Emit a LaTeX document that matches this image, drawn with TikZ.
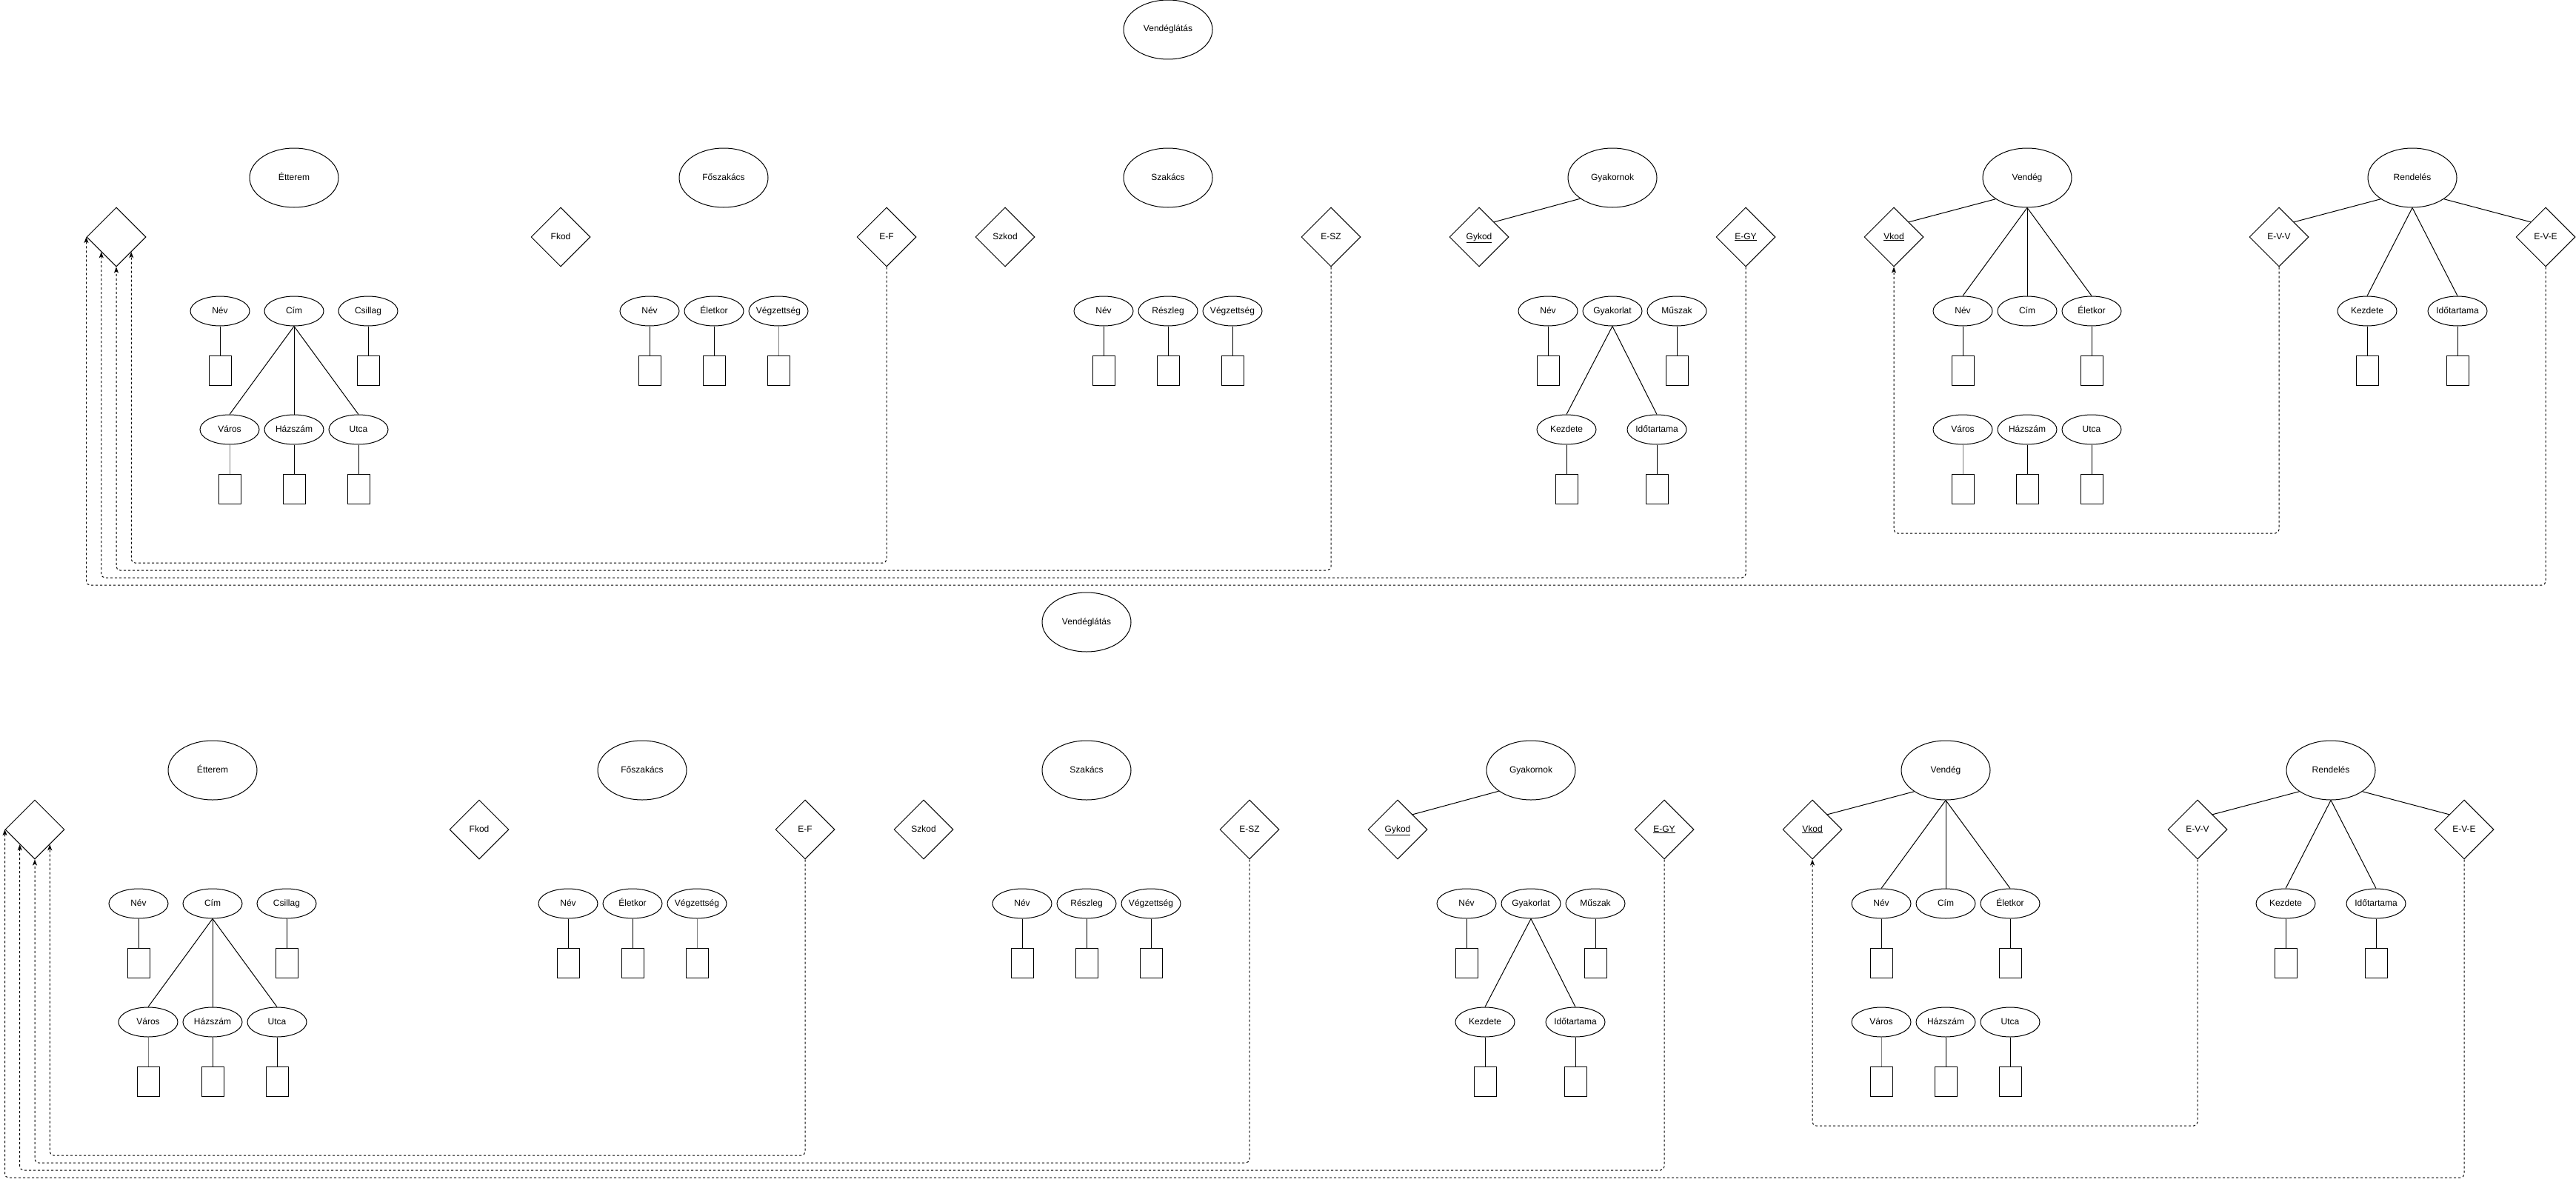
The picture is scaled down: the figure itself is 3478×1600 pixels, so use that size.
\documentclass[tikz,border=0pt]{standalone}
\usepackage{fontspec}
\setmainfont{Liberation Sans}
\usetikzlibrary{shapes.geometric,arrows.meta}
\newcommand\zlabel[1]{\makebox[0pt]{#1}}
\tikzset{
 every node/.style={text height=9pt,text depth=3pt},
 ent/.style={ellipse,draw,line width=1pt,inner sep=0pt,minimum width=120pt,minimum height=80pt},
 attr/.style={ellipse,draw,line width=1pt,inner sep=0pt,minimum width=80pt,minimum height=40pt},
 rel/.style={diamond,draw,line width=1pt,inner sep=0pt,minimum width=80pt,minimum height=80pt,aspect=1},
 valbox/.style={rectangle,draw,line width=1pt,inner sep=0pt,minimum width=30pt,minimum height=40pt},
 conn/.style={line width=1pt},
 grayconn/.style={line width=1pt,draw=black!50},
 dashconn/.style={line width=1pt,dash pattern=on 3pt off 3pt,rounded corners=5pt,-{Stealth[length=8pt,width=6pt,inset=2pt]}},
}
\newcommand\erdiagram[2]{%
\begin{scope}[shift={(#1)}]
% entities
\node[ent] (#2vg)  at (1577,40)  {\zlabel{Vendéglátás}};
\node[ent] (#2ett) at (397,240)  {\zlabel{Étterem}};
\node[ent] (#2fsz) at (977,240)  {\zlabel{Főszakács}};
\node[ent] (#2szk) at (1577,240) {\zlabel{Szakács}};
\node[ent] (#2gyk) at (2177,240) {\zlabel{Gyakornok}};
\node[ent] (#2vnd) at (2737,240) {\zlabel{Vendég}};
\node[ent] (#2ren) at (3257,240) {\zlabel{Rendelés}};
% diamonds
\node[rel] (#2d0)    at (157,320)  {};
\node[rel] (#2fkod)  at (757,320)  {\zlabel{Fkod}};
\node[rel] (#2ef)    at (1197,320) {\zlabel{E-F}};
\node[rel] (#2szkod) at (1357,320) {\zlabel{Szkod}};
\node[rel] (#2esz)   at (1797,320) {\zlabel{E-SZ}};
\node[rel] (#2gykod) at (1997,320) {\zlabel{\underline{Gykod}}};
\node[rel] (#2egy)   at (2357,320) {\zlabel{\underline{E-GY}}};
\node[rel] (#2vkod)  at (2557,320) {\zlabel{\underline{Vkod}}};
\node[rel] (#2evv)   at (3077,320) {\zlabel{E-V-V}};
\node[rel] (#2eve)   at (3437,320) {\zlabel{E-V-E}};
% Etterem attributes
\node[attr] (#2ettnev) at (297,420) {\zlabel{Név}};
\node[attr] (#2ettcim) at (397,420) {\zlabel{Cím}};
\node[attr] (#2ettcs)  at (497,420) {\zlabel{Csillag}};
\node[attr] (#2ettvar) at (310,580) {\zlabel{Város}};
\node[attr] (#2etthaz) at (397,580) {\zlabel{Házszám}};
\node[attr] (#2ettut)  at (484,580) {\zlabel{Utca}};
\node[valbox] (#2ettnevb) at (297,500) {};
\node[valbox] (#2ettcsb)  at (497,500) {};
\node[valbox] (#2ettvarb) at (310,660) {};
\node[valbox] (#2etthazb) at (397,660) {};
\node[valbox] (#2ettutb)  at (484,660) {};
% Foszakacs attributes
\node[attr] (#2fsznev)  at (877,420)  {\zlabel{Név}};
\node[attr] (#2fszelet) at (964,420)  {\zlabel{Életkor}};
\node[attr] (#2fszveg)  at (1051,420) {\zlabel{Végzettség}};
\node[valbox] (#2fsznevb)  at (877,500)  {};
\node[valbox] (#2fszeletb) at (964,500)  {};
\node[valbox] (#2fszvegb)  at (1051,500) {};
% Szakacs attributes
\node[attr] (#2szknev) at (1490,420) {\zlabel{Név}};
\node[attr] (#2szkres) at (1577,420) {\zlabel{Részleg}};
\node[attr] (#2szkveg) at (1664,420) {\zlabel{Végzettség}};
\node[valbox] (#2szknevb) at (1490,500) {};
\node[valbox] (#2szkresb) at (1577,500) {};
\node[valbox] (#2szkvegb) at (1664,500) {};
% Gyakornok attributes
\node[attr] (#2gyknev) at (2090,420) {\zlabel{Név}};
\node[attr] (#2gykgy)  at (2177,420) {\zlabel{Gyakorlat}};
\node[attr] (#2gykmu)  at (2264,420) {\zlabel{Műszak}};
\node[attr] (#2gykkez) at (2115,580) {\zlabel{Kezdete}};
\node[attr] (#2gykido) at (2237,580) {\zlabel{Időtartama}};
\node[valbox] (#2gyknevb) at (2090,500) {};
\node[valbox] (#2gykmub)  at (2264,500) {};
\node[valbox] (#2gykkezb) at (2115,660) {};
\node[valbox] (#2gykidob) at (2237,660) {};
% Vendeg attributes
\node[attr] (#2vndnev)  at (2650,420) {\zlabel{Név}};
\node[attr] (#2vndcim)  at (2737,420) {\zlabel{Cím}};
\node[attr] (#2vndelet) at (2824,420) {\zlabel{Életkor}};
\node[attr] (#2vndvar)  at (2650,580) {\zlabel{Város}};
\node[attr] (#2vndhaz)  at (2737,580) {\zlabel{Házszám}};
\node[attr] (#2vndut)   at (2824,580) {\zlabel{Utca}};
\node[valbox] (#2vndnevb)  at (2650,500) {};
\node[valbox] (#2vndeletb) at (2824,500) {};
\node[valbox] (#2vndvarb)  at (2650,660) {};
\node[valbox] (#2vndhazb)  at (2737,660) {};
\node[valbox] (#2vndutb)   at (2824,660) {};
% Rendeles attributes
\node[attr] (#2renkez) at (3196,420) {\zlabel{Kezdete}};
\node[attr] (#2renido) at (3318,420) {\zlabel{Időtartama}};
\node[valbox] (#2renkezb) at (3196,500) {};
\node[valbox] (#2renidob) at (3318,500) {};
% solid connectors
\draw[conn] (#2ettnev.south) -- (#2ettnevb.north);
\draw[conn] (#2ettcs.south) -- (#2ettcsb.north);
\draw[conn] (#2ettcim.south) -- (#2ettvar.north);
\draw[conn] (#2ettcim.south) -- (#2etthaz.north);
\draw[conn] (#2ettcim.south) -- (#2ettut.north);
\draw[grayconn] (#2ettvar.south) -- (#2ettvarb.north);
\draw[conn] (#2etthaz.south) -- (#2etthazb.north);
\draw[conn] (#2ettut.south) -- (#2ettutb.north);
\draw[conn] (#2fsznev.south) -- (#2fsznevb.north);
\draw[conn] (#2fszelet.south) -- (#2fszeletb.north);
\draw[grayconn] (#2fszveg.south) -- (#2fszvegb.north);
\draw[conn] (#2szknev.south) -- (#2szknevb.north);
\draw[conn] (#2szkres.south) -- (#2szkresb.north);
\draw[conn] (#2szkveg.south) -- (#2szkvegb.north);
\draw[conn] (#2gyk.213) -- (#2gykod.45);
\draw[conn] (#2gyknev.south) -- (#2gyknevb.north);
\draw[conn] (#2gykmu.south) -- (#2gykmub.north);
\draw[conn] (#2gykgy.south) -- (#2gykkez.north);
\draw[conn] (#2gykgy.south) -- (#2gykido.north);
\draw[conn] (#2gykkez.south) -- (#2gykkezb.north);
\draw[conn] (#2gykido.south) -- (#2gykidob.north);
\draw[conn] (#2vnd.214) -- (#2vkod.45);
\draw[conn] (#2vnd.south) -- (#2vndnev.north);
\draw[conn] (#2vnd.south) -- (#2vndcim.north);
\draw[conn] (#2vnd.south) -- (#2vndelet.north);
\draw[conn] (#2vndnev.south) -- (#2vndnevb.north);
\draw[conn] (#2vndelet.south) -- (#2vndeletb.north);
\draw[grayconn] (#2vndvar.south) -- (#2vndvarb.north);
\draw[conn] (#2vndhaz.south) -- (#2vndhazb.north);
\draw[conn] (#2vndut.south) -- (#2vndutb.north);
\draw[conn] (#2ren.214) -- (#2evv.45);
\draw[conn] (#2ren.326) -- (#2eve.135);
\draw[conn] (#2ren.south) -- (#2renkez.north);
\draw[conn] (#2ren.south) -- (#2renido.north);
\draw[conn] (#2renkez.south) -- (#2renkezb.north);
\draw[conn] (#2renido.south) -- (#2renidob.north);
% dashed connectors
\coordinate (#2ye) at (0,720);
\coordinate (#2ya) at (0,760);
\coordinate (#2yb) at (0,770);
\coordinate (#2yc) at (0,780);
\coordinate (#2yd) at (0,790);
\draw[dashconn] (#2evv.south) -- (#2evv.south |- #2ye) -| (#2vkod.south);
\draw[dashconn] (#2ef.south) -- (#2ef.south |- #2ya) -| (#2d0.-45);
\draw[dashconn] (#2esz.south) -- (#2esz.south |- #2yb) -| (#2d0.south);
\draw[dashconn] (#2egy.south) -- (#2egy.south |- #2yc) -| (#2d0.-135);
\draw[dashconn] (#2eve.south) -- (#2eve.south |- #2yd) -| (#2d0.west);
\end{scope}}
\begin{document}
\begin{tikzpicture}[x=1pt,y=-1pt,font=\fontsize{12}{14}\selectfont]
\fill[white] (0,0) rectangle (3478,1600);
\useasboundingbox (0,0) rectangle (3478,1600);
\erdiagram{0,0}{A}
\erdiagram{-110,800}{B}
\end{tikzpicture}
\end{document}
